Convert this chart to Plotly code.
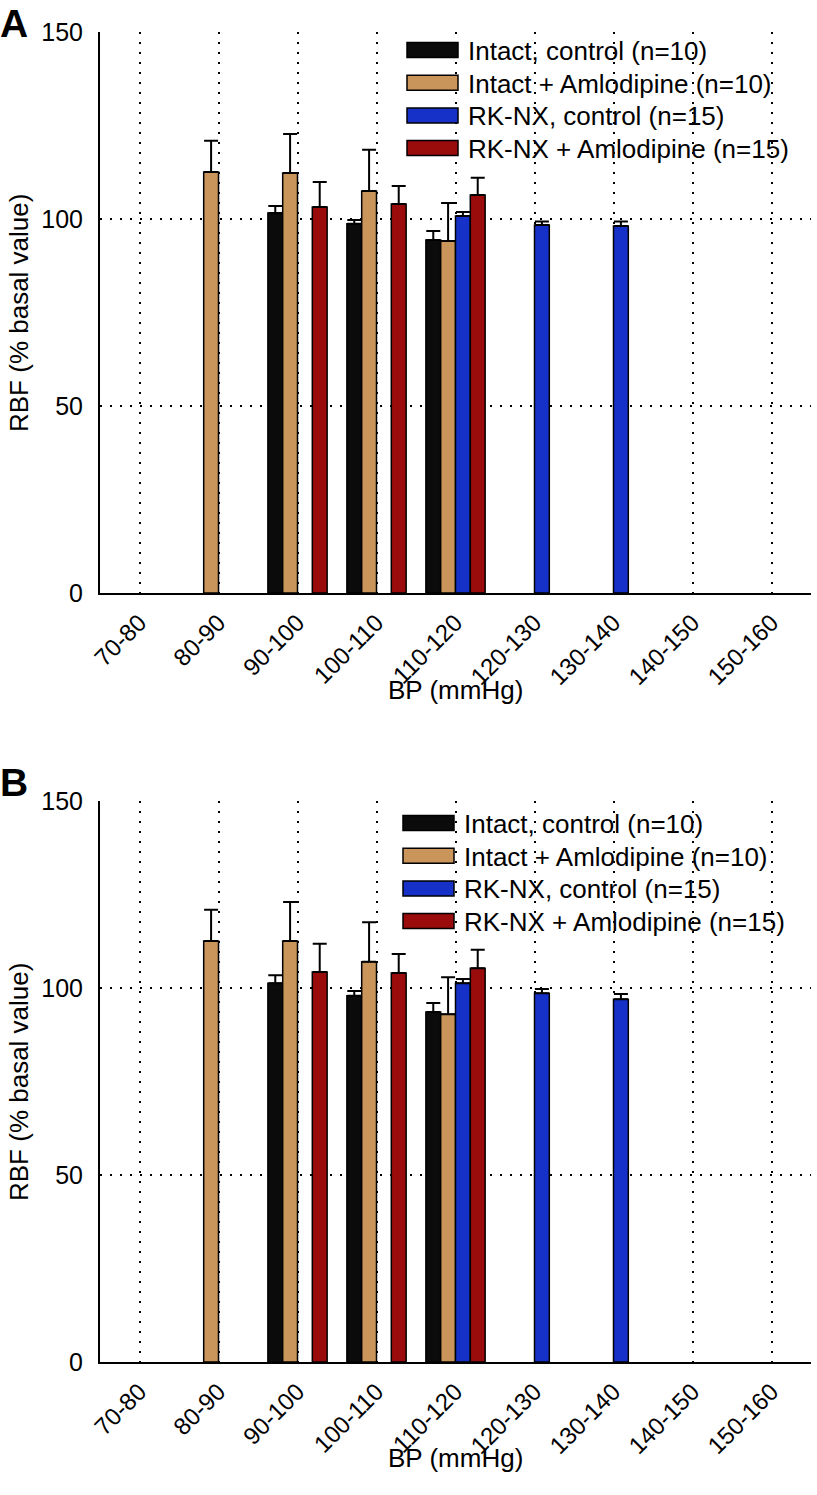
import plotly.graph_objects as go

categories = ["70-80", "80-90", "90-100", "100-110", "110-120",
              "120-130", "130-140", "140-150", "150-160"]
series_names = ["Intact, control (n=10)", "Intact + Amlodipine (n=10)",
                "RK-NX, control (n=15)", "RK-NX + Amlodipine (n=15)"]
series_colors = ["#0b0b0b", "#c9955a", "#1531c8", "#9a0b0b"]

# Panel A values (RBF, % basal value) and SEM
a_intact_ctrl = [None, None, 101.6, 98.7, 94.4, None, None, None, None]
a_intact_ctrl_err = [0, 0, 1.9, 1.0, 2.4, 0, 0, 0, 0]
a_intact_aml = [None, 112.6, 112.3, 107.5, 94.1, None, None, None, None]
a_intact_aml_err = [0, 8.3, 10.4, 11.0, 10.2, 0, 0, 0, 0]
a_rknx_ctrl = [None, None, None, None, 100.8, 98.4, 98.1, None, None]
a_rknx_ctrl_err = [0, 0, 0, 0, 1.1, 0.9, 1.2, 0, 0]
a_rknx_aml = [None, None, 103.2, 104.0, 106.4, None, None, None, None]
a_rknx_aml_err = [0, 0, 6.7, 4.8, 4.6, 0, 0, 0, 0]

# Panel B values
b_intact_ctrl = [None, None, 101.3, 97.9, 93.6, None, None, None, None]
b_intact_ctrl_err = [0, 0, 2.1, 1.3, 2.4, 0, 0, 0, 0]
b_intact_aml = [None, 112.6, 112.6, 107.0, 93.0, None, None, None, None]
b_intact_aml_err = [0, 8.3, 10.4, 10.6, 9.9, 0, 0, 0, 0]
b_rknx_ctrl = [None, None, None, None, 101.3, 98.6, 97.0, None, None]
b_rknx_ctrl_err = [0, 0, 0, 0, 1.1, 1.1, 1.4, 0, 0]
b_rknx_aml = [None, None, 104.3, 104.0, 105.3, None, None, None, None]
b_rknx_aml_err = [0, 0, 7.5, 5.1, 4.9, 0, 0, 0, 0]

y_ticks = [0, 50, 100, 150]
x_title = "BP (mmHg)"
y_title = "RBF (% basal value)"

W, H = 817, 1495
ML, MR, MT, MB = 100, 6, 32, 133
PW, PH = W - ML - MR, H - MT - MB
FONT = "Liberation Sans, Arial, Helvetica, sans-serif"


def px_x(px):
    return (px - ML) / PW


def px_y(py):
    return (H - MB - py) / PH


fig = go.Figure()

panels = [
    ("x", "y", [a_intact_ctrl, a_intact_aml, a_rknx_ctrl, a_rknx_aml],
     [a_intact_ctrl_err, a_intact_aml_err, a_rknx_ctrl_err, a_rknx_aml_err]),
    ("x2", "y2", [b_intact_ctrl, b_intact_aml, b_rknx_ctrl, b_rknx_aml],
     [b_intact_ctrl_err, b_intact_aml_err, b_rknx_ctrl_err, b_rknx_aml_err]),
]

for xa, ya, vals, errs in panels:
    for name, color, v, e in zip(series_names, series_colors, vals, errs):
        fig.add_trace(go.Bar(
            x=categories, y=v, name=name, xaxis=xa, yaxis=ya,
            marker=dict(color=color, line=dict(color="#000000", width=1.5)),
            error_y=dict(type="data", array=e, arrayminus=[0] * len(e),
                         symmetric=False, color="#000000", thickness=2, width=7),
            showlegend=False,
        ))

top_dom = [px_y(593), px_y(32)]
bot_dom = [px_y(1362), px_y(801)]

common_x = dict(
    type="category", range=[-0.5, 8.5], showline=True, linecolor="#000000",
    linewidth=2, ticks="", tickangle=-45, showgrid=True, gridcolor="#000000",
    gridwidth=2, griddash="2px,8px", tickfont=dict(size=24, color="#000000"),
    automargin=False, zeroline=False, ticklabelstandoff=4,
)
common_y = dict(
    range=[0, 150], tickvals=y_ticks, showline=True, linecolor="#000000",
    linewidth=2, ticks="", showgrid=True, gridcolor="#000000", gridwidth=2,
    griddash="2px,8px", zeroline=False, tickfont=dict(size=25, color="#000000"),
    automargin=False, ticklabelstandoff=10,
)

fig.update_layout(
    width=W, height=H,
    margin=dict(l=ML, r=MR, t=MT, b=MB),
    paper_bgcolor="#ffffff", plot_bgcolor="#ffffff",
    font=dict(family=FONT, color="#000000"),
    barmode="group", bargap=0.25, bargroupgap=0,
    showlegend=False,
    xaxis=dict(common_x, anchor="y", domain=[0, 1]),
    yaxis=dict(common_y, anchor="x", domain=top_dom),
    xaxis2=dict(common_x, anchor="y2", domain=[0, 1]),
    yaxis2=dict(common_y, anchor="x2", domain=bot_dom),
)

# Axis titles and panel letters
for letter, letter_top, xt_cy, yt_cy in [("A", 0, 690, 313), ("B", 759, 1458, 1082)]:
    fig.add_annotation(text="<b>%s</b>" % letter, xref="paper", yref="paper",
                       x=px_x(14), y=px_y(letter_top), showarrow=False,
                       font=dict(size=39, family=FONT, color="#000000"),
                       xanchor="center", yanchor="top")
    fig.add_annotation(text=x_title, xref="paper", yref="paper",
                       x=px_x(455), y=px_y(xt_cy), showarrow=False,
                       font=dict(size=26, family=FONT, color="#000000"),
                       xanchor="center", yanchor="middle")
    fig.add_annotation(text=y_title, xref="paper", yref="paper",
                       x=px_x(19), y=px_y(yt_cy), showarrow=False, textangle=-90,
                       font=dict(size=26, family=FONT, color="#000000"),
                       xanchor="center", yanchor="middle")

# Legends (drawn per panel from the series names/colours)
legend_specs = [(407, 50), (403, 823)]
row_step = 32.7
for sx, first_cy in legend_specs:
    for i, (name, color) in enumerate(zip(series_names, series_colors)):
        cy = first_cy + i * row_step
        fig.add_shape(type="rect", xref="paper", yref="paper",
                      x0=px_x(sx), x1=px_x(sx + 51),
                      y0=px_y(cy - 7.5), y1=px_y(cy + 7.5),
                      fillcolor=color, line=dict(color="#000000", width=1.5))
        fig.add_annotation(text=name, xref="paper", yref="paper",
                           x=px_x(sx + 59), y=px_y(cy + 1), showarrow=False,
                           xanchor="left", yanchor="middle",
                           font=dict(size=26, family=FONT, color="#000000"))

fig.write_html("out.html",
               config={"displayModeBar": False, "staticPlot": True},
               post_script="document.body.style.margin='0';document.body.style.padding='0';")
